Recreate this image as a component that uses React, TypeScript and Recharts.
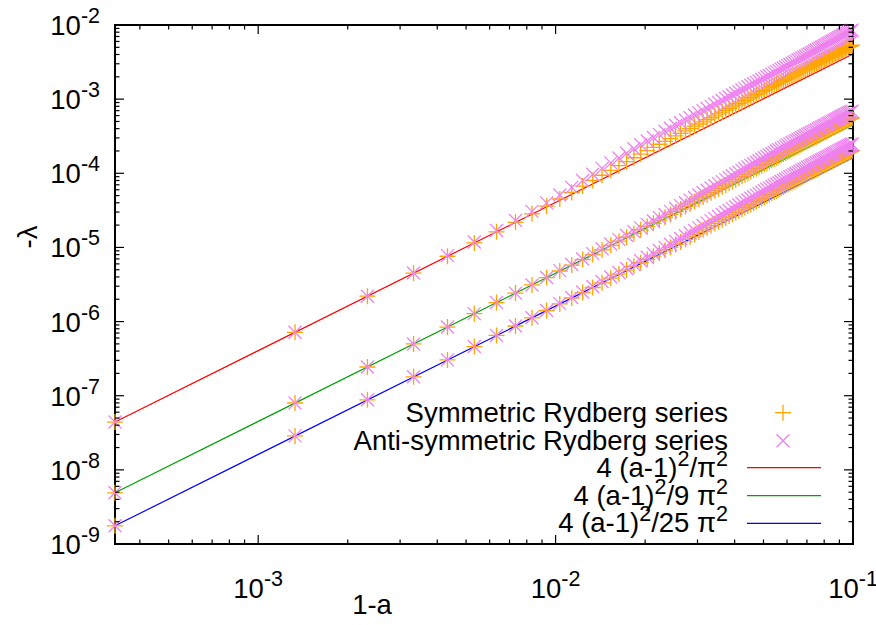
import React from 'react'
import { ComposedChart, Scatter, Line, XAxis, YAxis, ReferenceArea } from 'recharts'

// 1-a values of the computed states
const X_VALUES = [
  0.00033, 0.00133, 0.00233, 0.00333, 0.00433, 0.00533, 0.00633, 0.00733, 0.00833, 0.00933,
  0.01033, 0.01133, 0.01233, 0.01333, 0.01433, 0.01533, 0.01633, 0.01733, 0.01833, 0.01933,
  0.02033, 0.02133, 0.02233, 0.02333, 0.02433, 0.02533, 0.02633, 0.02733, 0.02833, 0.02933,
  0.03033, 0.03133, 0.03233, 0.03333, 0.03433, 0.03533, 0.03633, 0.03733, 0.03833, 0.03933,
  0.04033, 0.04133, 0.04233, 0.04333, 0.04433, 0.04533, 0.04633, 0.04733, 0.04833, 0.04933,
  0.05033, 0.05133, 0.05233, 0.05333, 0.05433, 0.05533, 0.05633, 0.05733, 0.05833, 0.05933,
  0.06033, 0.06133, 0.06233, 0.06333, 0.06433, 0.06533, 0.06633, 0.06733, 0.06833, 0.06933,
  0.07033, 0.07133, 0.07233, 0.07333, 0.07433, 0.07533, 0.07633, 0.07733, 0.07833, 0.07933,
  0.08033, 0.08133, 0.08233, 0.08333, 0.08433, 0.08533, 0.08633, 0.08733, 0.08833, 0.08933,
  0.09033, 0.09133, 0.09233, 0.09333, 0.09433, 0.09533, 0.09633, 0.09733, 0.09833, 0.09933,
]

// -lambda, lowest branch
const SYM_1 = [
  4.41e-8, 7.17e-7, 2.2e-6, 4.49e-6, 7.6e-6, 1.151e-5, 1.624e-5, 2.178e-5, 2.84e-5, 3.599e-5,
  4.498e-5, 5.515e-5, 6.717e-5, 7.994e-5, 9.405e-5, 1.095e-4, 1.265e-4, 1.436e-4, 1.621e-4, 1.817e-4,
  2.027e-4, 2.239e-4, 2.462e-4, 2.696e-4, 2.941e-4, 3.198e-4, 3.462e-4, 3.735e-4, 4.021e-4, 4.317e-4,
  4.623e-4, 4.941e-4, 5.27e-4, 5.61e-4, 5.962e-4, 6.324e-4, 6.697e-4, 7.083e-4, 7.48e-4, 7.886e-4,
  8.306e-4, 8.737e-4, 9.179e-4, 9.633e-4, 1.01e-3, 1.058e-3, 1.107e-3, 1.157e-3, 1.208e-3, 1.26e-3,
  1.315e-3, 1.369e-3, 1.425e-3, 1.483e-3, 1.54e-3, 1.601e-3, 1.662e-3, 1.724e-3, 1.787e-3, 1.852e-3,
  1.918e-3, 1.984e-3, 2.051e-3, 2.119e-3, 2.187e-3, 2.258e-3, 2.329e-3, 2.401e-3, 2.475e-3, 2.55e-3,
  2.627e-3, 2.703e-3, 2.781e-3, 2.861e-3, 2.942e-3, 3.025e-3, 3.107e-3, 3.192e-3, 3.278e-3, 3.365e-3,
  3.452e-3, 3.542e-3, 3.632e-3, 3.723e-3, 3.816e-3, 3.91e-3, 4.006e-3, 4.102e-3, 4.199e-3, 4.298e-3,
  4.398e-3, 4.5e-3, 4.602e-3, 4.706e-3, 4.81e-3, 4.917e-3, 5.025e-3, 5.133e-3, 5.244e-3, 5.359e-3,
]
const ANTI_1 = [
  4.41e-8, 7.17e-7, 2.2e-6, 4.53e-6, 7.75e-6, 1.186e-5, 1.689e-5, 2.309e-5, 3.065e-5, 3.987e-5,
  5.104e-5, 6.452e-5, 8.011e-5, 9.723e-5, 1.165e-4, 1.381e-4, 1.611e-4, 1.862e-4, 2.138e-4, 2.422e-4,
  2.73e-4, 3.032e-4, 3.351e-4, 3.688e-4, 4.045e-4, 4.42e-4, 4.805e-4, 5.206e-4, 5.628e-4, 6.067e-4,
  6.524e-4, 6.993e-4, 7.481e-4, 7.987e-4, 8.513e-4, 9.056e-4, 9.607e-4, 1.018e-3, 1.077e-3, 1.137e-3,
  1.2e-3, 1.263e-3, 1.329e-3, 1.396e-3, 1.466e-3, 1.537e-3, 1.61e-3, 1.684e-3, 1.761e-3, 1.839e-3,
  1.921e-3, 2.003e-3, 2.087e-3, 2.173e-3, 2.26e-3, 2.352e-3, 2.443e-3, 2.538e-3, 2.634e-3, 2.733e-3,
  2.832e-3, 2.936e-3, 3.04e-3, 3.146e-3, 3.253e-3, 3.365e-3, 3.477e-3, 3.591e-3, 3.708e-3, 3.828e-3,
  3.95e-3, 4.073e-3, 4.198e-3, 4.325e-3, 4.456e-3, 4.589e-3, 4.722e-3, 4.86e-3, 4.999e-3, 5.14e-3,
  5.282e-3, 5.432e-3, 5.582e-3, 5.735e-3, 5.891e-3, 6.05e-3, 6.211e-3, 6.374e-3, 6.539e-3, 6.707e-3,
  6.879e-3, 7.051e-3, 7.224e-3, 7.401e-3, 7.58e-3, 7.762e-3, 7.947e-3, 8.133e-3, 8.324e-3, 8.518e-3,
]

// second branch
const SYM_2 = [
  4.9e-9, 7.97e-8, 2.44e-7, 4.99e-7, 8.44e-7, 1.279e-6, 1.804e-6, 2.42e-6, 3.12e-6, 3.92e-6,
  4.81e-6, 5.78e-6, 6.85e-6, 8.0e-6, 9.25e-6, 1.069e-5, 1.215e-5, 1.372e-5, 1.543e-5, 1.725e-5,
  1.917e-5, 2.119e-5, 2.33e-5, 2.554e-5, 2.789e-5, 3.033e-5, 3.297e-5, 3.573e-5, 3.86e-5, 4.161e-5,
  4.474e-5, 4.791e-5, 5.121e-5, 5.463e-5, 5.816e-5, 6.183e-5, 6.562e-5, 6.954e-5, 7.358e-5, 7.774e-5,
  8.203e-5, 8.646e-5, 9.102e-5, 9.57e-5, 1.005e-4, 1.055e-4, 1.106e-4, 1.158e-4, 1.212e-4, 1.267e-4,
  1.324e-4, 1.381e-4, 1.438e-4, 1.498e-4, 1.558e-4, 1.62e-4, 1.683e-4, 1.748e-4, 1.814e-4, 1.881e-4,
  1.95e-4, 2.019e-4, 2.09e-4, 2.16e-4, 2.233e-4, 2.306e-4, 2.381e-4, 2.457e-4, 2.536e-4, 2.615e-4,
  2.695e-4, 2.777e-4, 2.86e-4, 2.945e-4, 3.03e-4, 3.117e-4, 3.207e-4, 3.296e-4, 3.387e-4, 3.48e-4,
  3.574e-4, 3.67e-4, 3.766e-4, 3.865e-4, 3.965e-4, 4.066e-4, 4.168e-4, 4.272e-4, 4.378e-4, 4.485e-4,
  4.593e-4, 4.699e-4, 4.806e-4, 4.916e-4, 5.025e-4, 5.137e-4, 5.249e-4, 5.362e-4, 5.477e-4, 5.598e-4,
]
const ANTI_2 = [
  4.9e-9, 7.97e-8, 2.44e-7, 4.99e-7, 8.44e-7, 1.279e-6, 1.804e-6, 2.42e-6, 3.12e-6, 3.92e-6,
  4.86e-6, 5.87e-6, 6.99e-6, 8.24e-6, 9.62e-6, 1.111e-5, 1.273e-5, 1.447e-5, 1.634e-5, 1.834e-5,
  2.047e-5, 2.278e-5, 2.523e-5, 2.784e-5, 3.061e-5, 3.351e-5, 3.665e-5, 3.996e-5, 4.344e-5, 4.711e-5,
  5.096e-5, 5.492e-5, 5.907e-5, 6.341e-5, 6.793e-5, 7.251e-5, 7.727e-5, 8.222e-5, 8.734e-5, 9.265e-5,
  9.814e-5, 1.037e-4, 1.094e-4, 1.153e-4, 1.214e-4, 1.277e-4, 1.342e-4, 1.409e-4, 1.477e-4, 1.548e-4,
  1.62e-4, 1.692e-4, 1.763e-4, 1.838e-4, 1.914e-4, 1.993e-4, 2.072e-4, 2.153e-4, 2.237e-4, 2.322e-4,
  2.409e-4, 2.495e-4, 2.583e-4, 2.671e-4, 2.762e-4, 2.854e-4, 2.948e-4, 3.043e-4, 3.142e-4, 3.241e-4,
  3.341e-4, 3.441e-4, 3.543e-4, 3.648e-4, 3.752e-4, 3.858e-4, 3.968e-4, 4.077e-4, 4.189e-4, 4.302e-4,
  4.417e-4, 4.534e-4, 4.651e-4, 4.772e-4, 4.894e-4, 5.017e-4, 5.141e-4, 5.268e-4, 5.398e-4, 5.528e-4,
  5.658e-4, 5.788e-4, 5.92e-4, 6.053e-4, 6.187e-4, 6.324e-4, 6.461e-4, 6.6e-4, 6.74e-4, 6.887e-4,
]

// third branch
const SYM_3 = [
  1.76e-9, 2.87e-8, 8.8e-8, 1.8e-7, 3.04e-7, 4.6e-7, 6.5e-7, 8.71e-7, 1.125e-6, 1.411e-6,
  1.73e-6, 2.08e-6, 2.46e-6, 2.88e-6, 3.33e-6, 3.848e-6, 4.372e-6, 4.943e-6, 5.559e-6, 6.212e-6,
  6.901e-6, 7.631e-6, 8.387e-6, 9.19e-6, 1.004e-5, 1.092e-5, 1.187e-5, 1.286e-5, 1.39e-5, 1.498e-5,
  1.61e-5, 1.725e-5, 1.844e-5, 1.967e-5, 2.095e-5, 2.226e-5, 2.363e-5, 2.503e-5, 2.649e-5, 2.799e-5,
  2.953e-5, 3.112e-5, 3.277e-5, 3.446e-5, 3.619e-5, 3.797e-5, 3.981e-5, 4.17e-5, 4.363e-5, 4.56e-5,
  4.764e-5, 4.968e-5, 5.177e-5, 5.39e-5, 5.609e-5, 5.832e-5, 6.06e-5, 6.292e-5, 6.531e-5, 6.774e-5,
  7.022e-5, 7.269e-5, 7.52e-5, 7.776e-5, 8.037e-5, 8.303e-5, 8.574e-5, 8.848e-5, 9.128e-5, 9.413e-5,
  9.703e-5, 9.997e-5, 1.03e-4, 1.06e-4, 1.091e-4, 1.122e-4, 1.154e-4, 1.187e-4, 1.22e-4, 1.253e-4,
  1.287e-4, 1.321e-4, 1.356e-4, 1.392e-4, 1.427e-4, 1.463e-4, 1.5e-4, 1.538e-4, 1.576e-4, 1.615e-4,
  1.654e-4, 1.691e-4, 1.73e-4, 1.769e-4, 1.81e-4, 1.849e-4, 1.889e-4, 1.931e-4, 1.973e-4, 2.016e-4,
]
const ANTI_3 = [
  1.76e-9, 2.87e-8, 8.8e-8, 1.8e-7, 3.04e-7, 4.6e-7, 6.5e-7, 8.71e-7, 1.125e-6, 1.411e-6,
  1.747e-6, 2.111e-6, 2.509e-6, 2.966e-6, 3.463e-6, 4.001e-6, 4.579e-6, 5.211e-6, 5.886e-6, 6.605e-6,
  7.37e-6, 8.207e-6, 9.082e-6, 1.002e-5, 1.102e-5, 1.206e-5, 1.32e-5, 1.439e-5, 1.564e-5, 1.696e-5,
  1.834e-5, 1.977e-5, 2.127e-5, 2.283e-5, 2.446e-5, 2.611e-5, 2.782e-5, 2.959e-5, 3.144e-5, 3.336e-5,
  3.534e-5, 3.733e-5, 3.939e-5, 4.152e-5, 4.371e-5, 4.597e-5, 4.83e-5, 5.07e-5, 5.317e-5, 5.57e-5,
  5.832e-5, 6.088e-5, 6.349e-5, 6.617e-5, 6.892e-5, 7.172e-5, 7.459e-5, 7.752e-5, 8.053e-5, 8.361e-5,
  8.675e-5, 8.982e-5, 9.296e-5, 9.617e-5, 9.943e-5, 1.027e-4, 1.061e-4, 1.096e-4, 1.131e-4, 1.166e-4,
  1.203e-4, 1.239e-4, 1.276e-4, 1.313e-4, 1.351e-4, 1.389e-4, 1.428e-4, 1.468e-4, 1.508e-4, 1.548e-4,
  1.59e-4, 1.632e-4, 1.675e-4, 1.718e-4, 1.762e-4, 1.805e-4, 1.851e-4, 1.896e-4, 1.943e-4, 1.99e-4,
  2.037e-4, 2.083e-4, 2.131e-4, 2.179e-4, 2.228e-4, 2.276e-4, 2.325e-4, 2.376e-4, 2.427e-4, 2.48e-4,
]

// the three reference lines 4(a-1)^2/(n^2 pi^2), end points
const LINE_X = [0.00033, 0.1]
const LINE_N1 = [4.41e-8, 4.053e-3]
const LINE_N3 = [4.9e-9, 4.503e-4]
const LINE_N5 = [1.76e-9, 1.621e-4]

const X_MAJOR = [1e-3, 1e-2, 1e-1]
const X_MINOR = [
  4e-4, 5e-4, 6e-4, 7e-4, 8e-4, 9e-4,
  2e-3, 3e-3, 4e-3, 5e-3, 6e-3, 7e-3, 8e-3, 9e-3,
  2e-2, 3e-2, 4e-2, 5e-2, 6e-2, 7e-2, 8e-2, 9e-2,
]
const Y_MAJOR = [1e-9, 1e-8, 1e-7, 1e-6, 1e-5, 1e-4, 1e-3, 1e-2]
const Y_MINOR = [1e-9, 1e-8, 1e-7, 1e-6, 1e-5, 1e-4, 1e-3].flatMap((d) =>
  [2, 3, 4, 5, 6, 7, 8, 9].map((m) => m * d)
)

const PLOT = { left: 115, right: 853, top: 25, bottom: 544 }
const FONT = '"Liberation Sans", Arial, sans-serif'
const FS = 27.5
const SUP = 21.5
const ORANGE = '#ffa500'
const VIOLET = '#ee82ee'

const pts = (ys: number[]) => X_VALUES.map((x, i) => ({ x, y: ys[i] }))
const line = (ys: number[]) => LINE_X.map((x, i) => ({ x, y: ys[i] }))

const isMajor = (list: number[], v: number) => list.some((m) => Math.abs(m - v) / m < 1e-6)
const expOf = (v: number) => String(Math.round(Math.log10(v)))

function PlusShape(props: any) {
  const { cx, cy } = props
  return <path d={`M${cx - 8},${cy}h16M${cx},${cy - 8}v16`} stroke={ORANGE} strokeWidth={1.3} fill="none" />
}

function CrossShape(props: any) {
  const { cx, cy } = props
  const r = 6.5
  return (
    <path
      d={`M${cx - r},${cy - r}L${cx + r},${cy + r}M${cx - r},${cy + r}L${cx + r},${cy - r}`}
      stroke={VIOLET}
      strokeWidth={1.3}
      fill="none"
    />
  )
}

function XTick(props: any) {
  const { x, payload } = props
  const major = isMajor(X_MAJOR, payload.value)
  const len = major ? 9 : 4.5
  return (
    <g>
      <line x1={x} x2={x} y1={PLOT.bottom} y2={PLOT.bottom - len} stroke="#000" strokeWidth={1.2} />
      <line x1={x} x2={x} y1={PLOT.top} y2={PLOT.top + len} stroke="#000" strokeWidth={1.2} />
      {major && (
        <text x={x} y={598} textAnchor="middle" fontFamily={FONT} fontSize={FS} fill="#000">
          10
          <tspan dy={-12} fontSize={SUP}>
            {expOf(payload.value)}
          </tspan>
        </text>
      )}
    </g>
  )
}

function YTick(props: any) {
  const { y, payload } = props
  const major = isMajor(Y_MAJOR, payload.value)
  const len = major ? 9 : 4.5
  return (
    <g>
      <line x1={PLOT.left} x2={PLOT.left + len} y1={y} y2={y} stroke="#000" strokeWidth={1.2} />
      <line x1={PLOT.right} x2={PLOT.right - len} y1={y} y2={y} stroke="#000" strokeWidth={1.2} />
      {major && (
        <text x={100} y={y + 10} textAnchor="end" fontFamily={FONT} fontSize={FS} fill="#000">
          10
          <tspan dy={-12} fontSize={SUP}>
            {expOf(payload.value)}
          </tspan>
        </text>
      )}
    </g>
  )
}

function Sup({ children }: { children: React.ReactNode }) {
  return (
    <tspan dy={-11} fontSize={SUP}>
      {children}
    </tspan>
  )
}

function Overlay() {
  const rx = 728
  const rows = [412.7, 440.7, 467.7, 495.7, 523.3]
  const t = { fontFamily: FONT, fontSize: FS, fill: '#000', textAnchor: 'end' as const }
  return (
    <svg width={876} height={625} style={{ position: 'absolute', left: 0, top: 0, pointerEvents: 'none' }}>
      <text x={rx} y={rows[0] + 9} {...t}>Symmetric Rydberg series</text>
      <text x={rx} y={rows[1] + 9} {...t}>Anti-symmetric Rydberg series</text>
      <text x={rx} y={rows[2] + 9} {...t}>
        4 (a-1)<Sup>2</Sup><tspan dy={11}>/π</tspan><Sup>2</Sup>
      </text>
      <text x={rx} y={rows[3] + 9} {...t}>
        4 (a-1)<Sup>2</Sup><tspan dy={11}>/9 π</tspan><Sup>2</Sup>
      </text>
      <text x={rx} y={rows[4] + 9} {...t}>
        4 (a-1)<Sup>2</Sup><tspan dy={11}>/25 π</tspan><Sup>2</Sup>
      </text>
      <PlusShape cx={783} cy={rows[0]} />
      <CrossShape cx={783} cy={rows[1]} />
      <line x1={747} x2={821} y1={rows[2]} y2={rows[2]} stroke="#ff0000" strokeWidth={1.2} />
      <line x1={747} x2={821} y1={rows[3]} y2={rows[3]} stroke="#00a000" strokeWidth={1.2} />
      <line x1={747} x2={821} y1={rows[4]} y2={rows[4]} stroke="#0000ff" strokeWidth={1.2} />
      <text x={372} y={614} fontFamily={FONT} fontSize={FS} textAnchor="middle">1-a</text>
      <text
        x={0}
        y={0}
        fontFamily={FONT}
        fontSize={FS}
        textAnchor="middle"
        transform="translate(37,237) rotate(-90)"
      >
        -λ
      </text>
    </svg>
  )
}

export default function App() {
  return (
    <div style={{ position: 'absolute', left: 0, top: 0, width: 876, height: 625, background: '#fff' }}>
      <ComposedChart width={876} height={625} margin={{ top: 25, right: 23, bottom: 0, left: 0 }}>
        <XAxis
          type="number"
          dataKey="x"
          scale="log"
          domain={[0.00033, 0.1]}
          ticks={[...X_MINOR, ...X_MAJOR]}
          interval={0}
          tick={<XTick />}
          tickLine={false}
          axisLine={false}
          height={81}
        />
        <YAxis
          type="number"
          dataKey="y"
          scale="log"
          domain={[1e-9, 1e-2]}
          ticks={[...Y_MINOR, ...Y_MAJOR]}
          interval={0}
          tick={<YTick />}
          tickLine={false}
          axisLine={false}
          width={115}
        />
        <ReferenceArea x1={0.00033} x2={0.1} y1={1e-9} y2={1e-2} fill="none" stroke="#000" strokeWidth={2} />
        <Scatter data={pts(SYM_1)} shape={<PlusShape />} isAnimationActive={false} />
        <Scatter data={pts(SYM_2)} shape={<PlusShape />} isAnimationActive={false} />
        <Scatter data={pts(SYM_3)} shape={<PlusShape />} isAnimationActive={false} />
        <Scatter data={pts(ANTI_1)} shape={<CrossShape />} isAnimationActive={false} />
        <Scatter data={pts(ANTI_2)} shape={<CrossShape />} isAnimationActive={false} />
        <Scatter data={pts(ANTI_3)} shape={<CrossShape />} isAnimationActive={false} />
        <Line data={line(LINE_N1)} dataKey="y" stroke="#ff0000" strokeWidth={1.2} dot={false} isAnimationActive={false} />
        <Line data={line(LINE_N3)} dataKey="y" stroke="#00a000" strokeWidth={1.2} dot={false} isAnimationActive={false} />
        <Line data={line(LINE_N5)} dataKey="y" stroke="#0000ff" strokeWidth={1.2} dot={false} isAnimationActive={false} />
      </ComposedChart>
      <Overlay />
    </div>
  )
}
